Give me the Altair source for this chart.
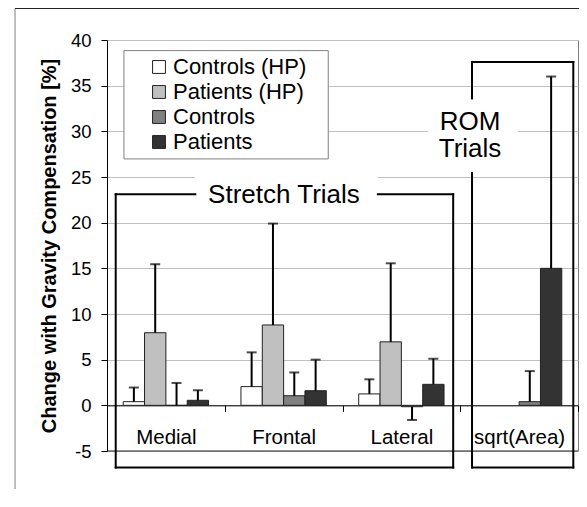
import altair as alt
import pandas as pd

FONT = "Liberation Sans"

# ---------------- data ----------------
categories = ["Medial", "Frontal", "Lateral", "sqrt(Area)"]
series = ["Controls (HP)", "Patients (HP)", "Controls", "Patients"]
colors = ["#ffffff", "#c0c0c0", "#808080", "#333333"]

controls_hp = [0.4, 2.05, 1.25, None]
patients_hp = [7.95, 8.8, 6.95, None]
controls = [0.0, 1.05, -0.15, 0.4]
patients = [0.55, 1.6, 2.3, 15.0]

controls_hp_err = [1.95, 5.8, 2.85, None]
patients_hp_err = [15.45, 19.9, 15.55, None]
controls_err = [2.45, 3.6, -1.6, 3.75]
patients_err = [1.65, 5.0, 5.1, 36.0]

y_ticks = [-5, 0, 5, 10, 15, 20, 25, 30, 35, 40]

# annotation geometry (x in category units 0..4, y in axis units)
stretch_left, stretch_right = 0.074, 2.94
stretch_top = 23.1
stretch_gap = [0.75, 2.30]
rom_left, rom_right = 3.10, 3.96
rom_top = 37.6
rom_gap = [33.6, 25.45]
bracket_bottom = -6.8

label_texts = ["Stretch Trials", "ROM", "Trials"]
label_x = [1.503, 3.083, 3.083]
label_y = [23.0, 31.03, 28.07]

bg_x = [0.747, 2.726]
bg_x2 = [2.30, 3.49]
bg_y = [25.8, 33.55]
bg_y2 = [20.85, 25.45]

legend_box = [0.144, 1.879, 38.84, 26.98]
frame_left_x = -0.781
frame_top_y = 43.45

# ---------------- tables ----------------
rows = []
for s, vals, errs in zip(series, [controls_hp, patients_hp, controls, patients],
                         [controls_hp_err, patients_hp_err, controls_err, patients_err]):
    for c, v, e in zip(categories, vals, errs):
        if v is None:
            continue
        rows.append({"category": c, "series": s, "value": v, "err": e})
df = pd.DataFrame(rows)

segs = [
    (stretch_left, stretch_top, stretch_gap[0], stretch_top),
    (stretch_gap[1], stretch_top, stretch_right, stretch_top),
    (stretch_left, stretch_top, stretch_left, bracket_bottom),
    (stretch_right, stretch_top, stretch_right, bracket_bottom),
    (stretch_left, bracket_bottom, stretch_right, bracket_bottom),
    (rom_left, rom_top, rom_right, rom_top),
    (rom_left, rom_top, rom_left, rom_gap[0]),
    (rom_left, rom_gap[1], rom_left, bracket_bottom),
    (rom_right, rom_top, rom_right, bracket_bottom),
    (rom_left, bracket_bottom, rom_right, bracket_bottom),
]
seg_df = pd.DataFrame(segs, columns=["x", "y", "x2", "y2"])
txt_df = pd.DataFrame({"text": label_texts, "x": label_x, "y": label_y})
bg_df = pd.DataFrame({"x": bg_x, "x2": bg_x2, "y": bg_y, "y2": bg_y2})
lb_df = pd.DataFrame({"x": [legend_box[0]], "x2": [legend_box[1]], "y": [legend_box[2]], "y2": [legend_box[3]]})
fl_df = pd.DataFrame({"x": [frame_left_x], "y": [frame_top_y], "y2": [-12]})
ft_df = pd.DataFrame({"x": [frame_left_x], "x2": [4.2], "y": [frame_top_y]})

# ---------------- scales / axes ----------------
y_scale = alt.Scale(domain=[-5, 40], nice=False, zero=False)
y_axis = alt.Axis(values=y_ticks, title="Change with Gravity Compensation [%]",
                  titleFont=FONT, titleFontSize=20, titleFontWeight="bold", titleColor="black",
                  titlePadding=11, labelFont=FONT, labelFontSize=18.5, labelColor="black",
                  labelPadding=10, tickSize=6, tickColor="black", domainColor="black",
                  grid=True, gridColor="#c0c0c0", labelExpr="'' + datum.value")
ax_scale = alt.Scale(domain=[0, 4], nice=False, zero=False)
cat_scale = alt.Scale(domain=categories, paddingInner=0, paddingOuter=0)
off_scale = alt.Scale(domain=series, paddingInner=0, paddingOuter=0.76)

x_axis = alt.Axis(title=None, labelAngle=0, labelFont=FONT, labelFontSize=20.5, labelColor="black",
                  labelPadding=26.6, labelBaseline="middle", tickBand="extent", tickSize=6,
                  tickColor="black", domainColor="black", offset=-45.67, grid=False)

legend = alt.Legend(orient="none", legendX=41, legendY=16, title=None, symbolType="square",
                    symbolSize=165, symbolStrokeColor="#222", symbolStrokeWidth=1,
                    symbolOpacity=1, labelFont=FONT, labelFontSize=22, labelColor="black",
                    labelOffset=3, rowPadding=3, padding=0)

x_cat = alt.X("category:N", sort=categories, scale=cat_scale, axis=x_axis)
x_off = alt.XOffset("series:N", sort=series, scale=off_scale)

# ---------------- marks ----------------
bars = alt.Chart(df).mark_bar(stroke="#222", strokeWidth=1).encode(
    x=x_cat, xOffset=x_off,
    y=alt.Y("value:Q", scale=y_scale, axis=y_axis),
    color=alt.Color("series:N", sort=series, scale=alt.Scale(domain=series, range=colors), legend=legend),
)
errs = alt.Chart(df).mark_rule(color="black", strokeWidth=2).encode(
    x=x_cat, xOffset=x_off,
    y=alt.Y("value:Q", scale=y_scale, axis=y_axis),
    y2="err:Q",
)
caps = alt.Chart(df).mark_tick(color="black", orient="horizontal", size=10, thickness=2).encode(
    x=x_cat, xOffset=x_off,
    y=alt.Y("err:Q", scale=y_scale, axis=y_axis),
)
bar_group = alt.layer(bars, errs, caps)

bgs = alt.Chart(bg_df).mark_rect(fill="white", stroke=None).encode(
    x=alt.X("x:Q", scale=ax_scale, axis=None), x2="x2:Q",
    y=alt.Y("y:Q", scale=y_scale, axis=y_axis), y2="y2:Q",
)
lbox = alt.Chart(lb_df).mark_rect(fill="white", stroke="#808080", strokeWidth=1).encode(
    x=alt.X("x:Q", scale=ax_scale, axis=None), x2="x2:Q",
    y=alt.Y("y:Q", scale=y_scale, axis=y_axis), y2="y2:Q",
)
fleft = alt.Chart(fl_df).mark_rule(color="#808080", strokeWidth=1).encode(
    x=alt.X("x:Q", scale=ax_scale, axis=None),
    y=alt.Y("y:Q", scale=y_scale, axis=y_axis), y2="y2:Q",
)
ftop = alt.Chart(ft_df).mark_rule(color="#222", strokeWidth=1).encode(
    x=alt.X("x:Q", scale=ax_scale, axis=None), x2="x2:Q",
    y=alt.Y("y:Q", scale=y_scale, axis=y_axis),
)
bottom_line = alt.Chart(pd.DataFrame({"x": [0], "x2": [4], "y": [-5]})).mark_rule(color="#222", strokeWidth=1).encode(
    x=alt.X("x:Q", scale=ax_scale, axis=None), x2="x2:Q",
    y=alt.Y("y:Q", scale=y_scale, axis=y_axis),
)
brackets = alt.Chart(seg_df).mark_rule(color="black", strokeWidth=2, strokeCap="square").encode(
    x=alt.X("x:Q", scale=ax_scale, axis=None), x2="x2:Q",
    y=alt.Y("y:Q", scale=y_scale, axis=y_axis), y2="y2:Q",
)
texts = alt.Chart(txt_df).mark_text(font=FONT, fontSize=26, color="black", baseline="middle", align="center").encode(
    x=alt.X("x:Q", scale=ax_scale, axis=None),
    y=alt.Y("y:Q", scale=y_scale, axis=y_axis),
    text="text:N",
)

chart = alt.layer(bgs, lbox, fleft, ftop, bottom_line, bar_group, brackets, texts).resolve_scale(
    x="independent"
).properties(
    width=471, height=411,
    padding={"left": 99, "top": 32, "right": 1, "bottom": 38},
    autosize=alt.AutoSizeParams(type="none"),
    background="white",
).configure_view(stroke="#808080", strokeWidth=1)

chart.save("out.html", embed_options={"renderer": "svg", "actions": False})
